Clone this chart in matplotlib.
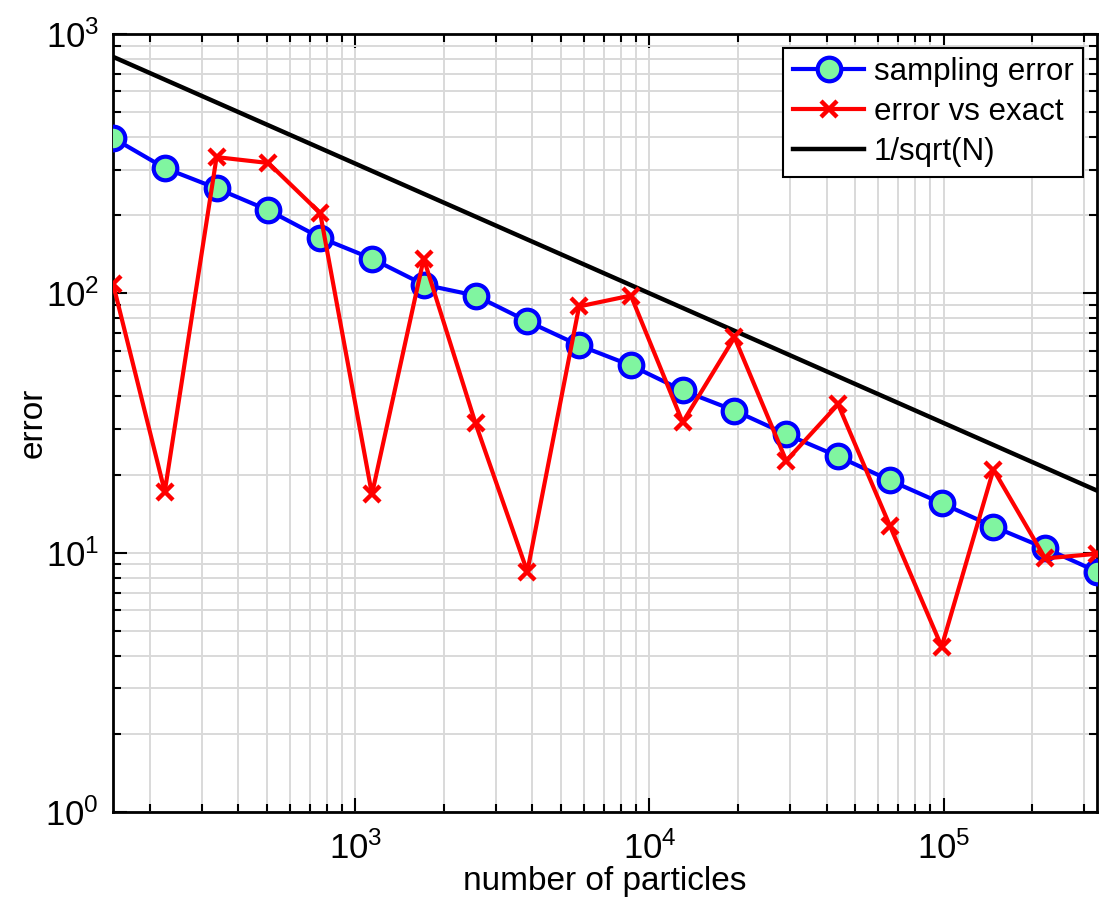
import matplotlib.pyplot as plt
import numpy as np

plt.rcParams['font.family'] = ['Liberation Sans', 'DejaVu Sans']
plt.rcParams['mathtext.fontset'] = 'custom'
plt.rcParams['mathtext.rm'] = 'Liberation Sans'

# particle counts (grow by 1.5 each run)
n_particles = [150, 225, 337.5, 506.25, 759.4, 1139.1, 1708.6, 2562.9, 3844.3,
               5766.5, 8649.8, 12974.6, 19461.9, 29192.9, 43789.3, 65684.0,
               98526.0, 147789.0, 221683.5, 332525.3]

sampling_error = [397, 304, 254, 209, 164, 136, 108, 98, 78, 63, 52.7, 42.2,
                  35.3, 28.6, 23.5, 19.0, 15.5, 12.6, 10.4, 8.45]

error_vs_exact = [109, 17.2, 335, 318, 204, 16.8, 136, 31.5, 8.45, 89, 98, 31.8,
                  67.6, 22.6, 37.3, 12.7, 4.34, 20.9, 9.5, 9.9]

ref_scale = 1e4
ref_line = ref_scale / np.sqrt(np.array(n_particles))

fig = plt.figure(figsize=(10.99, 8.98), dpi=100)
ax = fig.add_axes([0.1028, 0.0958, 0.8954, 0.8664])

ax.plot(n_particles, sampling_error, '-o', color='blue', lw=3,
        markersize=17, markerfacecolor='#80f5a0', markeredgecolor='blue',
        markeredgewidth=3, label='sampling error', zorder=3)
ax.plot(n_particles, error_vs_exact, '-x', color='red', lw=3,
        markersize=12, markeredgewidth=3.2, label='error vs exact', zorder=4)
ax.plot(n_particles, ref_line, '-', color='black', lw=3.2, label='1/sqrt(N)',
        zorder=2)

ax.set_xscale('log')
ax.set_yscale('log')
ax.set_xlim(150, 332525.3)
ax.set_ylim(1, 1000)

ax.grid(True, which='major', color='#d9d9d9', lw=1.4)
ax.grid(True, which='minor', color='#d9d9d9', lw=1.4)
ax.set_axisbelow(True)

ax.tick_params(which='both', direction='in', top=True, right=True,
               labelsize=25, width=1.5)
ax.tick_params(which='major', length=10)
ax.tick_params(which='minor', length=6)
ax.tick_params(axis='x', pad=14)
ax.tick_params(axis='y', pad=10)
for s in ax.spines.values():
    s.set_linewidth(2)

ax.set_xlabel('number of particles', fontsize=24, labelpad=0)
ax.set_ylabel('error', fontsize=24, labelpad=-2)

leg = ax.legend(loc='upper right', fontsize=22.5, fancybox=False, framealpha=1,
                edgecolor='black', handlelength=2.3, handletextpad=0.3,
                labelspacing=0.32, borderpad=0.3, borderaxespad=0.45)
leg.get_frame().set_linewidth(1.5)

fig.savefig('out.png', dpi=100)
